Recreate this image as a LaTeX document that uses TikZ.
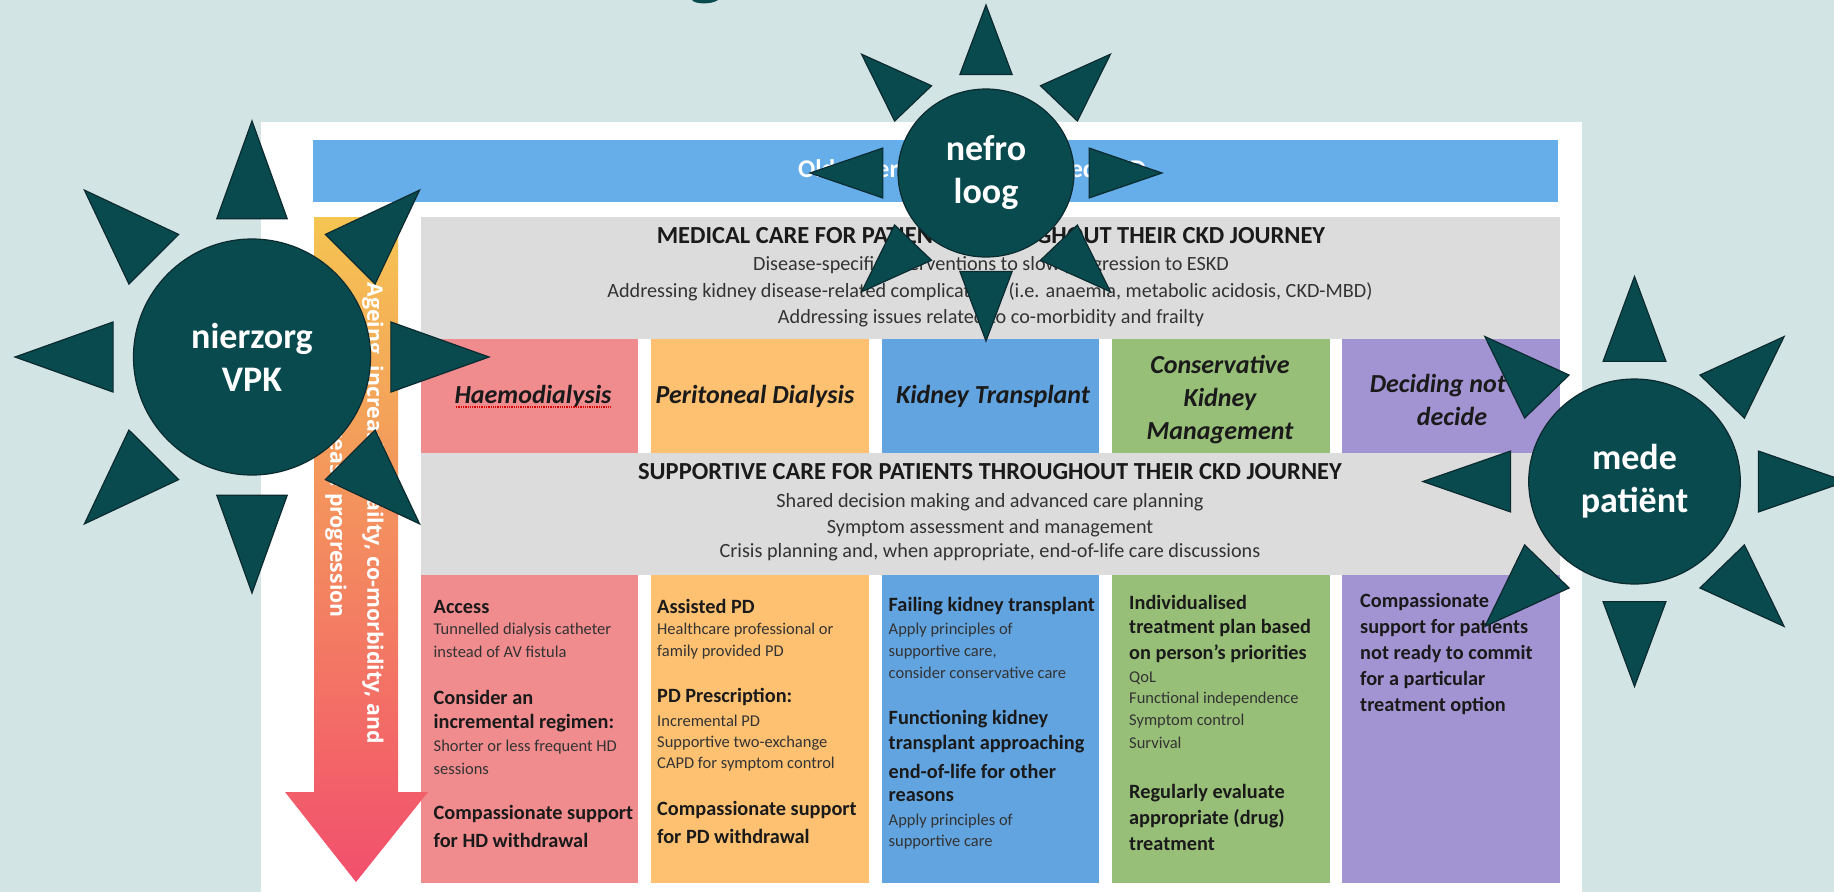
\documentclass[tikz,border=0pt]{standalone}
\usepackage{fontspec}
\setmainfont{Carlito}
\newfontfamily\arrowfont{Open Sans}
\usetikzlibrary{shapes.geometric}

\definecolor{pagebg}{HTML}{D3E4E4}
\definecolor{hubteal}{HTML}{084A4E}
\definecolor{hubline}{HTML}{0B2B30}
\definecolor{barblue}{HTML}{66AEEA}
\definecolor{panelgray}{HTML}{DCDCDC}
\definecolor{hdpink}{HTML}{F08B8E}
\definecolor{pdorange}{HTML}{FDC171}
\definecolor{txblue}{HTML}{62A4E0}
\definecolor{ckmgreen}{HTML}{98BF78}
\definecolor{dnpurple}{HTML}{A294D2}
\definecolor{inkdark}{HTML}{1A1A1A}
\definecolor{inkbody}{HTML}{333333}
\definecolor{arrowtop}{HTML}{F5C552}
\definecolor{arrowmid}{HTML}{F89C5A}
\definecolor{arrowbot}{HTML}{F24F6D}

\tikzset{
  hub/.style={ellipse,draw=hubline,fill=hubteal,line width=1.2pt,inner sep=0pt,
    text=white,align=center,font=\bfseries\fontsize{36}{43}\selectfont},
  ray/.style={draw=hubline,fill=hubteal,line width=1.2pt,line join=miter},
  titletxt/.style={font=\bfseries\fontsize{24.5}{28}\selectfont,text=inkdark},
  midtxt/.style={font=\fontsize{20.2}{24}\selectfont,text=inkbody},
  trtxt/.style={font=\bfseries\itshape\fontsize{26}{33}\selectfont,text=inkdark,align=center},
  headtxt/.style={anchor=west,inner sep=0pt,font=\bfseries\fontsize{20.3}{24}\selectfont,text=inkdark},
  bodytxt/.style={anchor=west,inner sep=0pt,font=\fontsize{16.5}{20}\selectfont,text=inkbody},
}

\begin{document}
\begin{tikzpicture}[x=1pt,y=-1pt]

\useasboundingbox (0,0) rectangle (1834,892);
\fill[pagebg] (0,0) rectangle (1834,892);
\fill[white] (261,122) rectangle (1582,892);

% cut off title
\fill[hubteal] (692,0) .. controls (695,4.5) and (712,4.5) .. (718,0) -- cycle;

% top bar
\fill[barblue] (313,140) rectangle (1558,202);
\node[white,font=\bfseries\fontsize{25.5}{28}\selectfont] (olderbar) at (972,171) {Older person with advanced CKD};

% gray bands
\fill[panelgray] (421,217) rectangle (1560,339);
\fill[panelgray] (421,453) rectangle (1560,575);

% columns
\foreach \xa/\xb/\colr in {421/638/hdpink,651/869/pdorange,882/1099/txblue,1112/1330/ckmgreen,1342/1560/dnpurple}{%
  \fill[\colr] (\xa,339) rectangle (\xb,453);
  \fill[\colr] (\xa,575) rectangle (\xb,883);
}

% big arrow
\shade[top color=arrowtop,middle color=arrowmid,bottom color=arrowbot]
  (314,217) -- (398,217) -- (398,792) -- (428,792) -- (356,882) -- (285,792) -- (314,792) -- cycle;
\node[white,rotate=-90,font=\arrowfont\bfseries\fontsize{21.3}{24}\selectfont] (arrowa) at (373,513) {Ageing, increasing frailty, co-morbidity, and};
\node[white,rotate=-90,font=\arrowfont\bfseries\fontsize{21.3}{24}\selectfont] (arrowb) at (336,513) {disease progression};

% band text
\node[titletxt] (medtitle) at (991,236) {MEDICAL CARE FOR PATIENTS THROUGHOUT THEIR CKD JOURNEY};
\node[midtxt] (meda) at (991,265) {Disease-specific interventions to slow progression to ESKD};
\node[midtxt] (medb) at (990,292) {Addressing kidney disease-related complications (i.e. anaemia, metabolic acidosis, CKD-MBD)};
\node[midtxt] (medc) at (991,318) {Addressing issues related to co-morbidity and frailty};

\node[titletxt] (suptitle) at (990,472) {SUPPORTIVE CARE FOR PATIENTS THROUGHOUT THEIR CKD JOURNEY};
\node[midtxt] (supa) at (990,502) {Shared decision making and advanced care planning};
\node[midtxt] (supb) at (990,528) {Symptom assessment and management};
\node[midtxt] (supc) at (990,552) {Crisis planning and, when appropriate, end-of-life care discussions};

% treatments
\node[trtxt] (haemo) at (533,396) {Haemodialysis};
\node[trtxt] (perit) at (755,396) {Peritoneal Dialysis};
\node[trtxt] (kidtx) at (993,396) {Kidney Transplant};
\node[trtxt] (consv) at (1220,400) {Conservative\\Kidney\\Management};
\node[trtxt] (decid) at (1452,400) {Deciding not to\\decide};
\draw[red!85!black,line width=1.3pt,densely dotted] (456,407) -- (611,407);

% column text
\foreach \x/\y/\txt [count=\i] in {
  433.5/606.7/Access, 433.5/697/Consider an, 433.5/722.7/incremental regimen:,
  433.5/814/Compassionate support, 433.5/840/for HD withdrawal,
  657/606/Assisted PD, 657/697/PD Prescription:, 657/810/Compassionate support, 657/836/for PD withdrawal,
  888.5/606/Failing kidney transplant, 888.5/719/Functioning kidney, 888.5/744/transplant approaching,
  888.5/771/end-of-life for other, 888.5/797/reasons,
  1129/602/Individualised, 1129/628/treatment plan based, 1129/654/on person’s priorities,
  1129/793/Regularly evaluate, 1129/819/appropriate (drug), 1129/844/treatment,
  1360/602/Compassionate, 1360/628/support for patients, 1360/654/not ready to commit,
  1360/680/for a particular, 1360/706/treatment option}{%
  \node[headtxt] (head\i) at (\x,\y) {\txt};
}

\foreach \x/\y/\txt [count=\i] in {
  433.5/630/Tunnelled dialysis catheter, 433.5/652/instead of AV fistula,
  433.5/746.7/Shorter or less frequent HD, 433.5/769/sessions,
  657/630/Healthcare professional or, 657/652/family provided PD, 657/721/Incremental PD,
  657/743/Supportive two-exchange, 657/764/CAPD for symptom control,
  888.5/630/Apply principles of, 888.5/652/{supportive care,}, 888.5/673/consider conservative care,
  888.5/821/Apply principles of, 888.5/842/supportive care,
  1129/678/QoL, 1129/699/Functional independence, 1129/721/Symptom control, 1129/743/Survival}{%
  \node[bodytxt] (body\i) at (\x,\y) {\txt};
}

% hubs with their rays
\foreach \cx/\cy/\rx/\ry/\nm/\lbl in {
  252/357/118.5/118/nierzorg/{nierzorg\\VPK},
  986/173/88/84/nefro/{nefro\\loog},
  1634.5/481.5/105.8/102.5/mede/{mede\\patiënt}}{%
  \begin{scope}[shift={(\cx,\cy)},xscale=\rx,yscale=\ry]
    \foreach \a in {0,45,...,315}{%
      \draw[ray,rotate=\a] (1.172,-0.297) -- (2,0) -- (1.172,0.297) -- cycle;
    }
  \end{scope}
  \node[hub,minimum width=2*\rx pt,minimum height=2*\ry pt] (\nm) at (\cx,\cy) {\lbl};
}

\end{tikzpicture}
\end{document}
